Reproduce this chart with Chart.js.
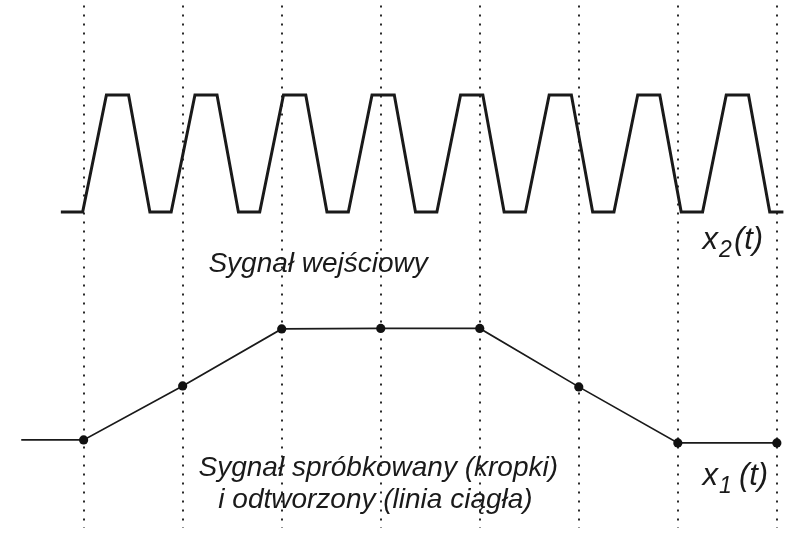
<!DOCTYPE html>
<html>
<head>
<meta charset="utf-8">
<script src="https://cdn.jsdelivr.net/npm/chart.js@4.4.1/dist/chart.umd.min.js"></script>
<style>
  html, body { margin: 0; padding: 0; background: #fff; }
  #wrap { width: 788px; height: 533px; position: relative; }
</style>
</head>
<body>
<div id="wrap"><canvas id="sig"></canvas></div>
<script>
// sampling instants (one per dotted line)
var sampleTimes = [0, 1, 2, 3, 4, 5, 6, 7];
// sampled signal x1(t) at those instants
var sampledValues = [9.0, 14.5, 20.3, 20.35, 20.35, 14.4, 8.7, 8.7];
// reconstructed line starts a bit before the first sample
var leadTime = -0.63;

// input signal x2(t): corner points of the trapezoid wave
var inputTimes = [-0.23,
  -0.01, 0.23, 0.454, 0.669,
  0.884, 1.124, 1.347, 1.563,
  1.778, 2.018, 2.243, 2.457,
  2.673, 2.912, 3.137, 3.351,
  3.567, 3.806, 4.031, 4.246,
  4.461, 4.701, 4.925, 5.140,
  5.355, 5.595, 5.818, 6.034,
  6.250, 6.489, 6.714, 6.928,
  7.10];
var inputValues = [32.2,
  32.2, 44.1, 44.1, 32.2,
  32.2, 44.1, 44.1, 32.2,
  32.2, 44.1, 44.1, 32.2,
  32.2, 44.1, 44.1, 32.2,
  32.2, 44.1, 44.1, 32.2,
  32.2, 44.1, 44.1, 32.2,
  32.2, 44.1, 44.1, 32.2,
  32.2, 44.1, 44.1, 32.2,
  32.2];

// text labels: [text, t, level]
var captions = [
  ["Sygnał wejściowy", 1.26, 26.1],
  ["Sygnał spróbkowany (kropki)", 1.16, 5.3],
  ["i odtworzony (linia ciągła)", 1.36, 2.1]
];
// signal names: [main, subscript, rest, t, level]
var signalNames = [
  ["x", "2", "(t)", 6.25, 28.4],
  ["x", "1", "(t)", 6.25, 4.4]
];
var nameGaps = [2, 7];

var xMin = -0.798, xMax = 7.066;
var yMin = 0, yMax = 53.3;

var inputPts = inputTimes.map(function(t, i) { return { x: t, y: inputValues[i] }; });
var samplePts = [{ x: leadTime, y: sampledValues[0] }].concat(
  sampleTimes.map(function(t, i) { return { x: t, y: sampledValues[i] }; })
);

var fontFam = '"Liberation Sans", Arial, Helvetica, sans-serif';

var labelPlugin = {
  id: "labels",
  afterDraw: function(chart) {
    var ctx = chart.ctx;
    var xs = chart.scales.x, ys = chart.scales.y;
    ctx.save();
    ctx.fillStyle = "#1a1a1a";
    ctx.textBaseline = "alphabetic";
    ctx.textAlign = "left";
    ctx.font = "italic 28px " + fontFam;
    captions.forEach(function(c) {
      ctx.fillText(c[0], xs.getPixelForValue(c[1]), ys.getPixelForValue(c[2]));
    });
    signalNames.forEach(function(s, k) {
      var px = xs.getPixelForValue(s[3]);
      var py = ys.getPixelForValue(s[4]);
      ctx.font = "italic 31px " + fontFam;
      ctx.fillText(s[0], px, py);
      px += ctx.measureText(s[0]).width + 1;
      ctx.font = "italic 23px " + fontFam;
      ctx.fillText(s[1], px, py + 8);
      px += ctx.measureText(s[1]).width + nameGaps[k];
      ctx.font = "italic 31px " + fontFam;
      ctx.fillText(s[2], px, py);
    });
    ctx.restore();
  }
};

new Chart(document.getElementById("sig"), {
  type: "line",
  data: {
    datasets: [
      {
        label: "x2",
        data: inputPts,
        borderColor: "#1a1a1a",
        borderWidth: 3,
        borderJoinStyle: "miter",
        pointRadius: 0,
        tension: 0
      },
      {
        label: "x1",
        data: samplePts,
        borderColor: "#1a1a1a",
        borderWidth: 1.7,
        pointRadius: samplePts.map(function(p, i) { return i === 0 ? 0 : 4.6; }),
        pointBackgroundColor: "#111",
        pointBorderColor: "#111",
        pointBorderWidth: 0,
        tension: 0
      }
    ]
  },
  options: {
    responsive: true,
    maintainAspectRatio: false,
    animation: false,
    layout: { padding: 0 },
    plugins: {
      legend: { display: false },
      tooltip: { enabled: false }
    },
    scales: {
      x: {
        type: "linear",
        min: xMin, max: xMax,
        afterBuildTicks: function(scale) {
          scale.ticks = sampleTimes.map(function(v) { return { value: v }; });
        },
        ticks: { display: false },
        grid: { color: "#2a2a2a", lineWidth: 2, drawTicks: false },
        border: { display: false, dash: [2, 7], dashOffset: 8 }
      },
      y: {
        type: "linear",
        display: false,
        min: yMin, max: yMax
      }
    }
  },
  plugins: [labelPlugin]
});
</script>
</body>
</html>
